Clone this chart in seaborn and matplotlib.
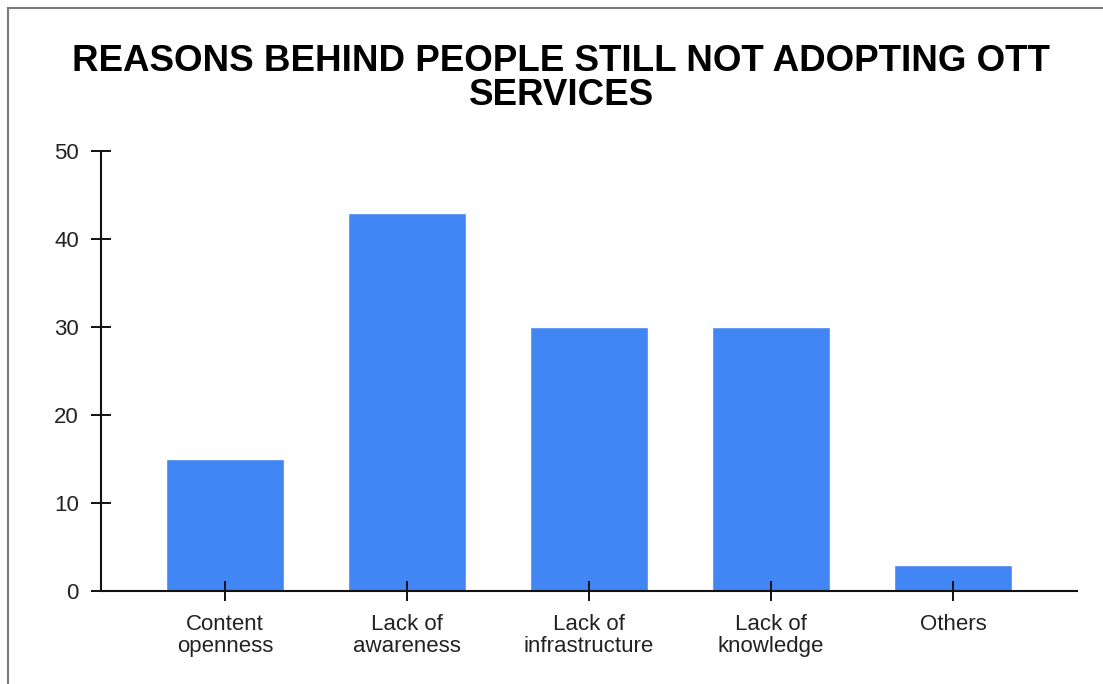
import matplotlib
matplotlib.use("Agg")
import matplotlib.pyplot as plt
import seaborn as sns
import pandas as pd
from matplotlib.patches import Rectangle

categories = ["Content\nopenness", "Lack of\nawareness", "Lack of\ninfrastructure", "Lack of\nknowledge", "Others"]
values = [15, 43, 30, 30, 3]
y_ticks = [0, 10, 20, 30, 40, 50]
title = "REASONS BEHIND PEOPLE STILL NOT ADOPTING OTT\nSERVICES"

sns.set_theme(style="white")
plt.rcParams['font.family'] = ['Liberation Sans', 'DejaVu Sans']

W, H = 1103, 684
fig = plt.figure(figsize=(W / 100, H / 100), dpi=100)
ax = fig.add_axes([101 / W, 1 - 591 / H, (1077 - 101) / W, (591 - 151) / H])

df = pd.DataFrame({"category": categories, "value": values})
sns.barplot(data=df, x="category", y="value", color="#4285F4", saturation=1,
            width=0.65, ax=ax, zorder=1)

ax.set_xlim(-0.68, 4.68)
ax.set_ylim(0, 50)
ax.set_yticks(y_ticks)
ax.set_xlabel("")
ax.set_ylabel("")
ax.set_axisbelow(False)
for s in ["top", "right"]:
    ax.spines[s].set_visible(False)
for s in ["left", "bottom"]:
    ax.spines[s].set_color("#111111")
    ax.spines[s].set_linewidth(1.5)
    ax.spines[s].set_zorder(3)
ax.tick_params(axis="both", bottom=True, left=True, direction="inout", length=15,
               width=1.4, color="#111111", labelsize=16, labelcolor="#222222")
ax.tick_params(axis="y", pad=8.5)
ax.tick_params(axis="x", pad=9)
for lab in ax.get_xticklabels():
    lab.set_linespacing(1.05)

fig.text(561 / W, 1 - 44 / H, title, ha="center", va="top", fontsize=26.5,
         fontweight="bold", color="black", linespacing=0.95)

fig.patches.append(Rectangle((8 / W, -0.1), 1.2, 1 - 8 / H + 0.1, transform=fig.transFigure,
                             fill=False, edgecolor="#7a7a7a", linewidth=1.5))

fig.savefig("out.png", dpi=100)
